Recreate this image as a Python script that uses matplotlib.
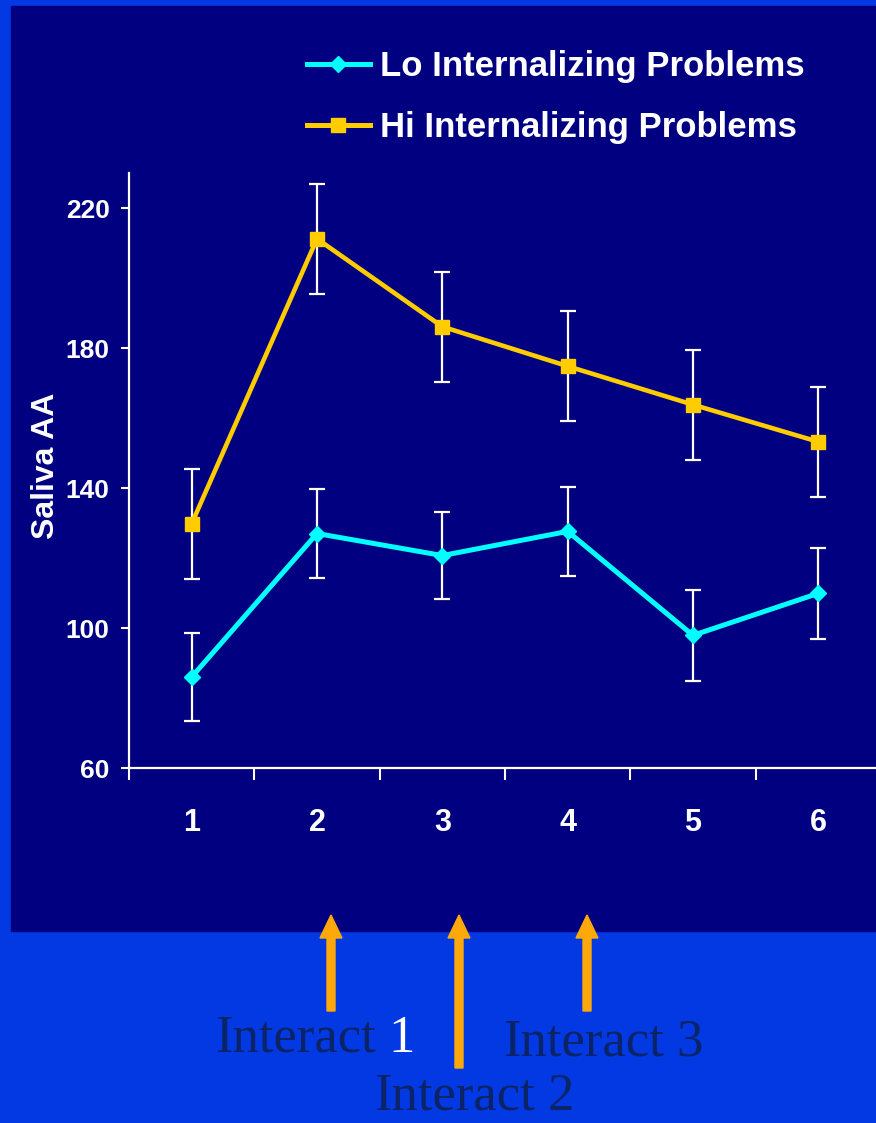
import matplotlib
matplotlib.use('Agg')
import matplotlib.pyplot as plt
from matplotlib.lines import Line2D
from matplotlib.patches import Rectangle, FancyArrow

# measurement occasions
occasions = [1, 2, 3, 4, 5, 6]

# saliva alpha-amylase, group means and error bar half-widths
lo_mean = [86.0, 127.0, 120.7, 127.6, 97.9, 109.9]
lo_err = [12.5, 12.8, 12.4, 12.8, 12.9, 12.9]
hi_mean = [129.8, 211.2, 186.1, 174.8, 163.8, 153.2]
hi_err = [15.7, 15.7, 15.7, 15.7, 15.7, 15.8]

series_labels = ['Lo Internalizing Problems', 'Hi Internalizing Problems']
y_ticks = [60, 100, 140, 180, 220]
interact_labels = ['Interact 1', 'Interact 2', 'Interact 3']

# colours
outer_bg = '#0339E3'
panel_bg = '#000080'
lo_color = '#00FFFF'
hi_color = '#FFCC00'
arrow_color = '#FFA80A'
note_color = '#0B2468'

sans = ['Liberation Sans', 'DejaVu Sans']
serif = ['Liberation Serif', 'DejaVu Serif']

W, H = 876, 1123
fig = plt.figure(figsize=(W / 100, H / 100), dpi=100, facecolor=outer_bg)

# dark slide panel behind the chart
fig.patches.append(Rectangle((11 / W, (H - 931) / H), 1 - 11 / W, (931 - 6) / H,
                             transform=fig.transFigure, color=panel_bg, zorder=-1))

ax = fig.add_axes([129 / W, 355 / H, 752 / W, 595 / H])
ax.set_facecolor('none')
ax.set_xlim(0.5, 6.5)
ax.set_ylim(60, 230)

ax.errorbar(occasions, lo_mean, yerr=lo_err, color=lo_color, lw=3.6,
            marker='D', ms=8.6, mec=lo_color, ecolor='white', elinewidth=1.6,
            capsize=5.8, capthick=1.6, clip_on=False)
ax.errorbar(occasions, hi_mean, yerr=hi_err, color=hi_color, lw=3.3,
            marker='s', ms=10, mec=hi_color, ecolor='white', elinewidth=1.6,
            capsize=5.8, capthick=1.6, clip_on=False)

for side in ['top', 'right']:
    ax.spines[side].set_visible(False)
for side in ['left', 'bottom']:
    ax.spines[side].set_color('white')
    ax.spines[side].set_linewidth(1.6)

# category boundaries carry the tick marks, the labels sit between them
ax.set_xticks([0.5, 1.5, 2.5, 3.5, 4.5, 5.5, 6.5])
ax.set_xticklabels([])
ax.set_xticks(occasions, labels=[str(o) for o in occasions], minor=True)
ax.tick_params(axis='x', which='major', length=8.6, width=1.5, color='white', direction='out')
ax.tick_params(axis='x', which='minor', length=0, pad=29, labelcolor='white')
ax.set_yticks(y_ticks)
ax.tick_params(axis='y', length=6, width=1.5, color='white', pad=8, labelcolor='white')
for t in ax.get_xticklabels(minor=True):
    t.set_fontfamily(sans)
    t.set_fontweight('bold')
    t.set_fontsize(22)
for t in ax.get_yticklabels():
    t.set_fontfamily(sans)
    t.set_fontweight('bold')
    t.set_fontsize(19)

fig.text(46 / W, 1 - 466 / H, 'Saliva AA', rotation=90, ha='center', va='center',
         color='white', fontsize=23, fontweight='bold', family=sans)

handles = [Line2D([], [], color=lo_color, lw=3.6, marker='D', ms=8.6),
           Line2D([], [], color=hi_color, lw=3.6, marker='s', ms=9.5)]
leg = fig.legend(handles, series_labels, loc='upper left',
                 bbox_to_anchor=(307 / W, 1 - 50 / H), frameon=False,
                 prop=dict(family=sans, weight='bold', size=25),
                 handlelength=1.8, handletextpad=0.3, labelspacing=0.82,
                 borderpad=0, borderaxespad=0)
for t in leg.get_texts():
    t.set_color('white')

# arrows marking the interaction episodes (inch coordinates)
arrow_x = [3.31, 4.59, 5.87]
arrow_bottom = [11.23 - 10.11, 11.23 - 10.68, 11.23 - 10.11]
arrow_tip = 11.23 - 9.15
for xa, yb in zip(arrow_x, arrow_bottom):
    fig.patches.append(FancyArrow(xa, yb, 0, arrow_tip - yb, width=0.08,
                                  head_width=0.22, head_length=0.23,
                                  length_includes_head=True, color=arrow_color,
                                  transform=fig.dpi_scale_trans, zorder=3))

note_pos = [(215, 1052), (374, 1110), (503, 1055)]
for lab, (px, py) in zip(interact_labels, note_pos):
    word, num = lab.split(' ')
    t = fig.text(px / W, 1 - py / H, word, ha='left', va='baseline',
                 color=note_color, fontsize=38, family=serif)
    # the first episode number is set in white
    ax.annotate(num, xy=(1, 0), xycoords=t, xytext=(9, 0), textcoords='offset points',
                ha='left', va='bottom', fontsize=38, family=serif,
                color='white' if lab == 'Interact 1' else note_color,
                annotation_clip=False)

fig.savefig('out.png', dpi=100, facecolor=outer_bg)
